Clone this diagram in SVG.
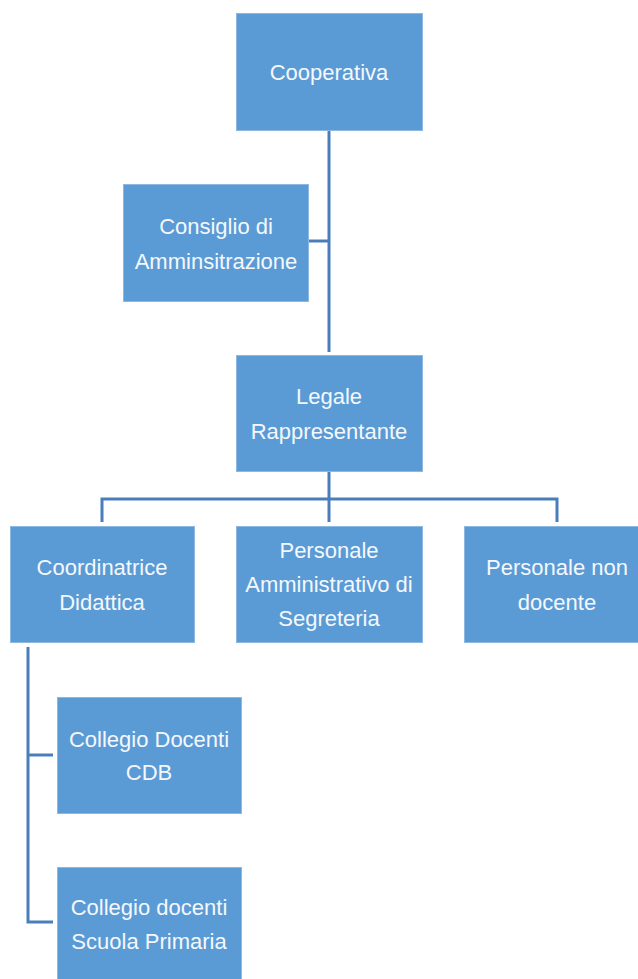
<svg xmlns="http://www.w3.org/2000/svg" width="638" height="979" viewBox="0 0 638 979">
<style>
.box{fill:#5B9BD5;stroke:#8DB8E2;stroke-width:1}
.t{font-family:"Liberation Sans",Arial,sans-serif;font-size:22px;fill:#F4F8FC;text-anchor:middle}
.c{fill:none;stroke:#4A7EBB;stroke-width:3}
</style>
<rect width="638" height="979" fill="#FFFFFF"/>
<g id="connectors">
<path class="c" d="M329 130 V352"/>
<path class="c" d="M308 241 H329"/>
<path class="c" d="M329 471 V522"/>
<path class="c" d="M102 522 V499 H557 V522"/>
<path class="c" d="M28 647 V922 H53"/>
<path class="c" d="M28 755 H53"/>
</g>
<g id="cooperativa"><rect class="box" x="236.5" y="13.5" width="186" height="117"/><text class="t" x="329" y="80">Cooperativa</text></g>
<g id="consiglio"><rect class="box" x="123.5" y="184.5" width="185" height="117"/><text class="t" x="216" y="234">Consiglio di</text><text class="t" x="216" y="269">Amminsitrazione</text></g>
<g id="legale"><rect class="box" x="236.5" y="355.5" width="186" height="116"/><text class="t" x="329" y="404">Legale</text><text class="t" x="329" y="439">Rappresentante</text></g>
<g id="coordinatrice"><rect class="box" x="10.5" y="526.5" width="184" height="116"/><text class="t" x="102" y="575">Coordinatrice</text><text class="t" x="102" y="610">Didattica</text></g>
<g id="amministrativo"><rect class="box" x="236.5" y="526.5" width="186" height="116"/><text class="t" x="329" y="558">Personale</text><text class="t" x="329" y="592">Amministrativo di</text><text class="t" x="329" y="626">Segreteria</text></g>
<g id="nondocente"><rect class="box" x="464.5" y="526.5" width="186" height="116"/><text class="t" x="557" y="575">Personale non</text><text class="t" x="557" y="610">docente</text></g>
<g id="cdb"><rect class="box" x="57.5" y="697.5" width="184" height="116"/><text class="t" x="149" y="747">Collegio Docenti</text><text class="t" x="149" y="780">CDB</text></g>
<g id="primaria"><rect class="box" x="57.5" y="867.5" width="184" height="116"/><text class="t" x="149" y="915">Collegio docenti</text><text class="t" x="149" y="949">Scuola Primaria</text></g>
</svg>
